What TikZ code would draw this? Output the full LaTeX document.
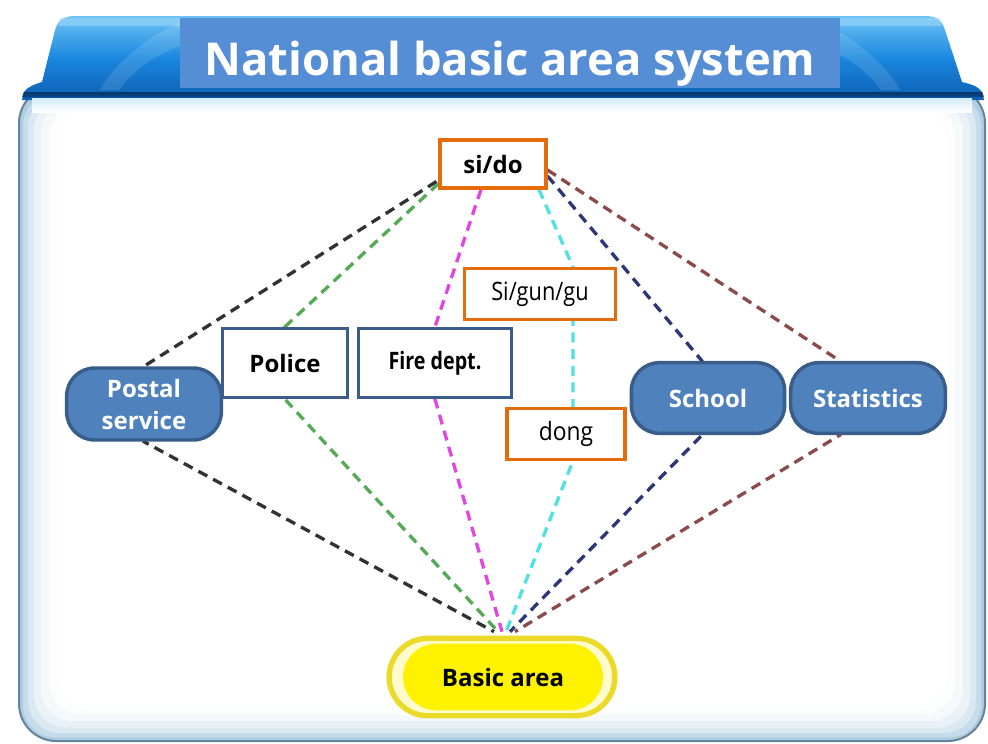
\documentclass[tikz,border=0pt]{standalone}
\usepackage{fontspec}
\setmainfont{Open Sans}
\usetikzlibrary{calc,shapes.misc}
\definecolor{orangeB}{RGB}{228,108,10}
\definecolor{navyB}{RGB}{60,92,140}
\definecolor{fillB}{RGB}{79,129,189}
\definecolor{edgeB}{RGB}{56,93,138}
\definecolor{titleB}{RGB}{85,142,213}
\definecolor{hdrTop}{RGB}{110,195,245}
\definecolor{hdrMid}{RGB}{26,135,222}
\definecolor{hdrBot}{RGB}{12,95,180}
\definecolor{panelEdge}{RGB}{100,132,155}
\definecolor{panelFill}{RGB}{175,205,225}
\definecolor{glowY}{RGB}{236,218,40}
\definecolor{glowIn}{RGB}{255,251,205}
\definecolor{lnBlack}{RGB}{50,50,50}
\definecolor{lnGreen}{RGB}{85,170,85}
\definecolor{lnMag}{RGB}{225,70,225}
\definecolor{lnCyan}{RGB}{80,225,225}
\definecolor{lnNavy}{RGB}{45,55,120}
\definecolor{lnBrown}{RGB}{140,75,75}
\pgfdeclarelayer{bg}
\pgfdeclarelayer{lines}
\pgfsetlayers{bg,lines,main}
\tikzset{
  orangebox/.style={draw=orangeB, line width=2.3pt, fill=white, inner sep=0pt, text=black},
  bluebox/.style={draw=navyB, line width=2.4pt, fill=white, inner sep=0pt, text=black, font=\bfseries\fontsize{18}{22}\selectfont},
  bluepill/.style={draw=edgeB, line width=2.6pt, fill=fillB, rounded corners=21pt, inner sep=0pt, text=white, align=center, font=\bfseries\fontsize{18}{24}\selectfont},
  link/.style={line width=2.5pt, dash pattern=on 7.5pt off 5pt},
}
\begin{document}
\begin{tikzpicture}[x=0.75pt,y=-0.75pt]
\useasboundingbox (0,0) rectangle (988,743);
% ---------- background frame ----------
\begin{pgfonlayer}{bg}
\fill[white] (0,0) rectangle (988,743);
\draw[panelEdge, line width=1.5pt, fill=panelFill, rounded corners=28pt] (19,86) rectangle (985,741);
\foreach \i/\o in {4/0.3,9/0.35,15/0.45,22/0.55,30/0.7,38/1}{
  \fill[white, opacity=\o, rounded corners=24pt] (19+\i,92+\i*0.4) rectangle (985-\i,741-\i*0.9);
}
% header
\shade[top color=hdrTop, bottom color=hdrBot, middle color=hdrMid]
  (22,100) -- (24,92) .. controls (28,86) and (36,84) .. (42,82)
  -- (55,30) .. controls (58,20) and (64,16) .. (75,16)
  -- (925,16) .. controls (936,16) and (942,20) .. (945,30)
  -- (962,82) .. controls (970,84) and (978,86) .. (982,92) -- (984,100) -- cycle;
\fill[hdrTop!60!white, opacity=0.5] (60,18) -- (940,18) -- (942,26) -- (58,26) -- cycle;
\fill[white, opacity=0.12] (120,90) .. controls (150,40) and (250,25) .. (300,22) -- (180,22) .. controls (140,40) and (110,70) .. (100,90) -- cycle;
\fill[white, opacity=0.12] (880,90) .. controls (850,40) and (750,25) .. (700,22) -- (820,22) .. controls (860,40) and (890,70) .. (900,90) -- cycle;
\fill[top color=hdrBot!70!black, bottom color=hdrBot, opacity=0.6] (24,92) -- (982,92) -- (984,97) -- (22,97) -- cycle;
\fill[top color=white!70!hdrTop, bottom color=white] (32,98) rectangle (972,112);
\end{pgfonlayer}
% ---------- title ----------
\node[fill=titleB, minimum width=495pt, minimum height=53pt, inner sep=0pt, text=white,
      text height=36pt, text depth=2pt,
      font=\bfseries\fontsize{34}{38}\selectfont] (title) at (510,53) {National basic area system};
% ---------- nodes ----------
\node[orangebox, minimum width=79.5pt, minimum height=36pt, font=\bfseries\fontsize{18}{22}\selectfont] (sido) at (493,164) {si/do};
\node[orangebox, minimum width=113pt, minimum height=38pt, font=\fontsize{19}{22}\selectfont] (sigungu) at (540,294) {\scalebox{0.86}[1]{Si/gun/gu}};
\node[orangebox, minimum width=88.5pt, minimum height=38pt, font=\fontsize{19}{22}\selectfont] (dong) at (566,434) {\scalebox{0.9}[1]{dong}};
\node[bluebox, minimum width=94pt, minimum height=52pt] (police) at (285,363) {Police};
\node[bluebox, minimum width=115pt, minimum height=52pt] (fire) at (435,363) {\scalebox{0.82}[1]{Fire dept.}};
\node[bluepill, minimum width=116pt, minimum height=54pt] (postal) at (144,404) {Postal\\service};
\node[bluepill, minimum width=115pt, minimum height=53pt] (school) at (708,398) {School};
\node[bluepill, minimum width=116pt, minimum height=53pt] (stats) at (868,398) {Statistics};
\node[rounded rectangle, draw=glowY, line width=4pt, fill=glowIn, minimum width=176pt, minimum height=58pt] (glow) at (502,677) {};
\node[rounded rectangle, fill=yellow, inner sep=0pt, minimum width=150pt, minimum height=50pt,
      font=\bfseries\fontsize{18}{22}\selectfont, text=black] (basic) at (503,677) {Basic area};
% ---------- connectors ----------
\begin{pgfonlayer}{lines}
\draw[link, lnBlack] ($(sido.south west)+(-2,-8)$) -- (postal.north) -- (postal.south) -- ($(glow.north)+(-8,-4)$);
\draw[link, lnGreen] ($(sido.south west)+(0,-6)$) -- (police.north) -- (police.south) -- ($(glow.north)+(-4,-4)$);
\draw[link, lnMag] ($(sido.south)+(-12,0)$) -- (fire.north) -- (fire.south) -- ($(glow.north)+(0,-4)$);
\draw[link, lnCyan] ($(sido.south)+(46,0)$) -- ($(sigungu.north)+(33,0)$) -- ($(dong.south)+(7,0)$) -- ($(glow.north)+(4,-4)$);
\draw[link, lnNavy] ($(sido.east)+(0,12)$) -- ($(school.north)+(-6,0)$) -- ($(school.south)+(-6,0)$) -- ($(glow.north)+(8,-4)$);
\draw[link, lnBrown] ($(sido.east)+(0,6)$) -- ($(stats.north)+(-28,0)$) -- ($(stats.south)+(-28,0)$) -- ($(glow.north)+(13,-4)$);
\end{pgfonlayer}
\end{tikzpicture}
\end{document}
